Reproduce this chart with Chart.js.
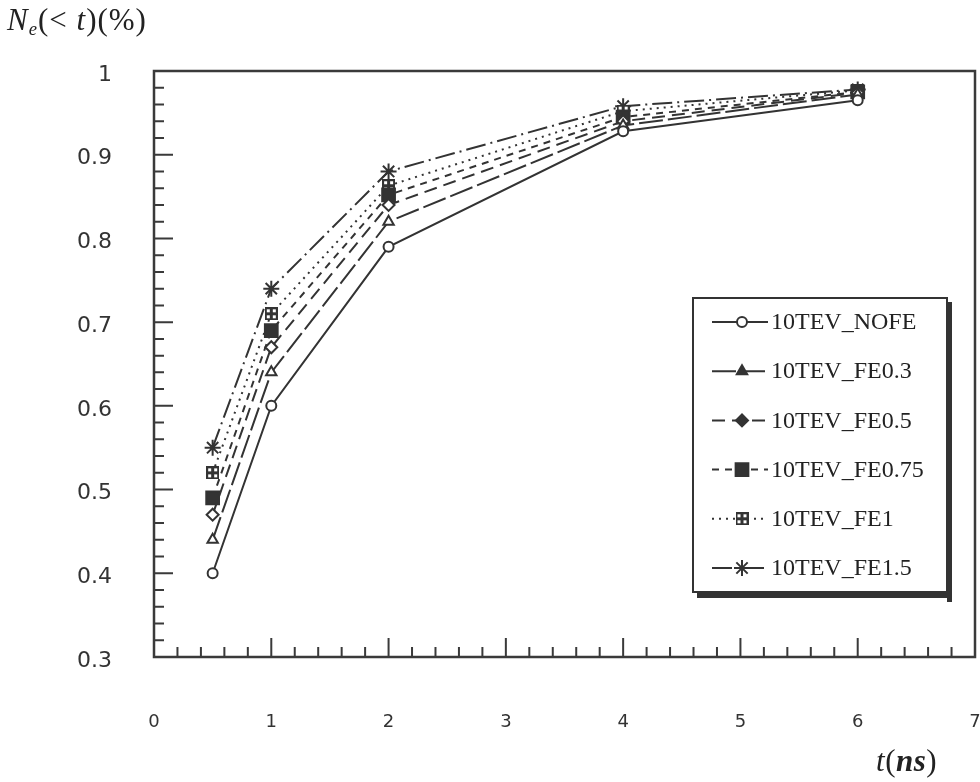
<!DOCTYPE html>
<html>
<head>
<meta charset="utf-8">
<script src="https://cdn.jsdelivr.net/npm/chart.js@4/dist/chart.umd.min.js"></script>
<style>
  html, body { margin: 0; padding: 0; background: #fff; overflow: hidden; }
  #wrap { position: relative; width: 980px; height: 782px; overflow: hidden; }
  #chart { position: absolute; left: 0; top: 0; }
  .axis-title { position: absolute; font-family: "Liberation Serif", "Times New Roman", serif; color: #222; white-space: nowrap; }
  #ytitle { left: 7px; top: 2px; font-size: 31px; letter-spacing: 1px; }
  #xtitle { left: 876px; top: 743px; font-size: 31px; letter-spacing: 0.5px; }
  .axis-title i { font-style: italic; }
  .axis-title sub { font-size: 60%; vertical-align: -0.25em; font-style: italic; }
</style>
</head>
<body>
<div id="wrap">
  <canvas id="chart" width="990" height="782"></canvas>
  <div id="ytitle" class="axis-title"><i>N</i><sub>e</sub>(&lt; <i>t</i>)(%)</div>
  <div id="xtitle" class="axis-title"><i>t</i>(<b><i>ns</i></b>)</div>
</div>
<script>
// Drift times in ns
const times = [0.5, 1, 2, 4, 6];

// Fraction of electrons collected before t, per configuration
const labels = ['10TEV_NOFE', '10TEV_FE0.3', '10TEV_FE0.5', '10TEV_FE0.75', '10TEV_FE1', '10TEV_FE1.5'];
const nofe  = [0.40, 0.60, 0.79, 0.928, 0.965];
const fe03  = [0.44, 0.64, 0.82, 0.935, 0.972];
const fe05  = [0.47, 0.67, 0.84, 0.940, 0.974];
const fe075 = [0.49, 0.69, 0.852, 0.945, 0.975];
const fe1   = [0.52, 0.71, 0.863, 0.952, 0.977];
const fe15  = [0.55, 0.74, 0.88, 0.958, 0.978];

// Axis ticks
const xTicks = [0, 1, 2, 3, 4, 5, 6, 7];
const yTicks = [0.3, 0.4, 0.5, 0.6, 0.7, 0.8, 0.9, 1];

const ink = '#333';

// Square with four white windows (boxed cross marker)
function boxedCross(size) {
  const c = document.createElement('canvas');
  c.width = size; c.height = size;
  const g = c.getContext('2d');
  g.fillStyle = ink;
  g.fillRect(0, 0, size, size);
  g.fillStyle = '#fff';
  const w = Math.floor((size - 6) / 2);
  g.fillRect(2, 2, w, w);
  g.fillRect(size - 2 - w, 2, w, w);
  g.fillRect(2, size - 2 - w, w, w);
  g.fillRect(size - 2 - w, size - 2 - w, w, w);
  return c;
}
const boxMark = boxedCross(13);

function pts(vals) { return times.map((t, i) => ({ x: t, y: vals[i] })); }

const styles = [
  { dash: [],               point: 'circle',   radius: 5, fill: '#fff', legendFill: '#fff' },
  { dash: [24, 5],          point: 'triangle', radius: 6, fill: '#fff', legendFill: ink },
  { dash: [13, 7],          point: 'rectRot',  radius: 6, fill: '#fff', legendFill: ink },
  { dash: [7, 6],           point: 'rect',     radius: 9, fill: ink,    legendFill: ink },
  { dash: [2, 5],           point: boxMark,    radius: 7, fill: ink,    legendFill: ink },
  { dash: [20, 5, 2, 5],    point: 'star',     radius: 8, fill: ink,    legendFill: ink }
];
const seriesValues = [nofe, fe03, fe05, fe075, fe1, fe15];

const datasets = seriesValues.map((vals, i) => ({
  label: labels[i],
  data: pts(vals),
  showLine: true,
  borderColor: ink,
  borderWidth: 2,
  borderDash: styles[i].dash,
  pointStyle: styles[i].point,
  pointRadius: styles[i].radius,
  pointBorderWidth: 2,
  pointBorderColor: ink,
  pointBackgroundColor: styles[i].fill,
  legendFill: styles[i].legendFill,
  tension: 0
}));

// Frame with inward major / minor ticks on the left and bottom edges
const framePlugin = {
  id: 'frame',
  beforeDatasetsDraw(chart) {
    const { ctx, chartArea: a, scales: { x, y } } = chart;
    ctx.save();
    ctx.strokeStyle = '#3a3a3a';
    ctx.lineWidth = 2.5;
    ctx.strokeRect(a.left, a.top, a.right - a.left, a.bottom - a.top);
    ctx.lineWidth = 2;
    ctx.beginPath();
    for (let k = 0; k <= 35; k++) {
      const v = k / 5;
      const px = x.getPixelForValue(v);
      const len = (k % 5 === 0) ? 19 : 10;
      ctx.moveTo(px, a.bottom);
      ctx.lineTo(px, a.bottom - len);
    }
    for (let k = 0; k <= 35; k++) {
      const v = 0.3 + k * 0.02;
      const py = y.getPixelForValue(v);
      const len = (k % 5 === 0) ? 19 : 10;
      ctx.moveTo(a.left, py);
      ctx.lineTo(a.left + len, py);
    }
    ctx.stroke();
    ctx.restore();
  }
};

function drawMarker(ctx, ds, x, y) {
  const st = ds.pointStyle;
  if (typeof st !== 'string') {
    ctx.drawImage(st, x - st.width / 2, y - st.height / 2);
    return;
  }
  ctx.save();
  ctx.fillStyle = ds.legendFill;
  ctx.strokeStyle = ink;
  ctx.lineWidth = 2;
  ctx.setLineDash([]);
  if (Chart.helpers && Chart.helpers.drawPoint) {
    Chart.helpers.drawPoint(ctx, { pointStyle: st, rotation: 0, radius: ds.pointRadius, borderWidth: 2 }, x, y);
  }
  ctx.restore();
}

// Boxed legend with drop shadow
const legendPlugin = {
  id: 'boxLegend',
  afterDraw(chart) {
    const ctx = chart.ctx;
    const L = 693, T = 298, R = 947, B = 592;
    ctx.save();
    ctx.fillStyle = '#fff';
    ctx.fillRect(L, T, R - L, B - T);
    ctx.fillStyle = '#333';
    ctx.fillRect(R, T + 4, 5, B - T + 6);
    ctx.fillRect(L + 4, B, R - L + 1, 6);
    ctx.strokeStyle = '#333';
    ctx.lineWidth = 2;
    ctx.strokeRect(L, T, R - L, B - T);
    chart.data.datasets.forEach((ds, i) => {
      const yy = 322 + i * 49.2;
      ctx.save();
      ctx.strokeStyle = ink;
      ctx.lineWidth = 2;
      ctx.setLineDash(ds.borderDash);
      ctx.beginPath();
      ctx.moveTo(712, yy);
      ctx.lineTo(768, yy);
      ctx.stroke();
      ctx.restore();
      drawMarker(ctx, ds, 742, yy);
      ctx.fillStyle = '#222';
      ctx.font = '24px "Liberation Serif", "Times New Roman", serif';
      ctx.textBaseline = 'middle';
      ctx.fillText(ds.label, 771, yy + 1);
    });
    ctx.restore();
  }
};

new Chart(document.getElementById('chart'), {
  type: 'scatter',
  data: { datasets },
  options: {
    responsive: false,
    animation: false,
    devicePixelRatio: 1,
    layout: { padding: { top: 71, right: 15, left: 0, bottom: 0 } },
    plugins: { legend: { display: false }, tooltip: { enabled: false } },
    scales: {
      x: {
        type: 'linear', min: 0, max: 7,
        afterBuildTicks(s) { s.ticks = xTicks.map(v => ({ value: v })); },
        afterFit(s) { s.height = 125; s.paddingLeft = 0; s.paddingRight = 0; },
        ticks: { padding: 55, color: '#333', font: { family: 'DejaVu Sans', size: 18 },
                 callback: v => String(v) },
        grid: { display: false, drawTicks: false },
        border: { display: false }
      },
      y: {
        type: 'linear', min: 0.3, max: 1,
        afterBuildTicks(s) { s.ticks = yTicks.map(v => ({ value: v })); },
        afterFit(s) { s.width = 154; s.paddingTop = 0; s.paddingBottom = 0; },
        ticks: { padding: 42, labelOffset: 4, color: '#333', font: { family: 'DejaVu Sans', size: 22 },
                 callback: v => String(Math.round(v * 10) / 10) },
        grid: { display: false, drawTicks: false },
        border: { display: false }
      }
    }
  },
  plugins: [framePlugin, legendPlugin]
});
</script>
</body>
</html>
